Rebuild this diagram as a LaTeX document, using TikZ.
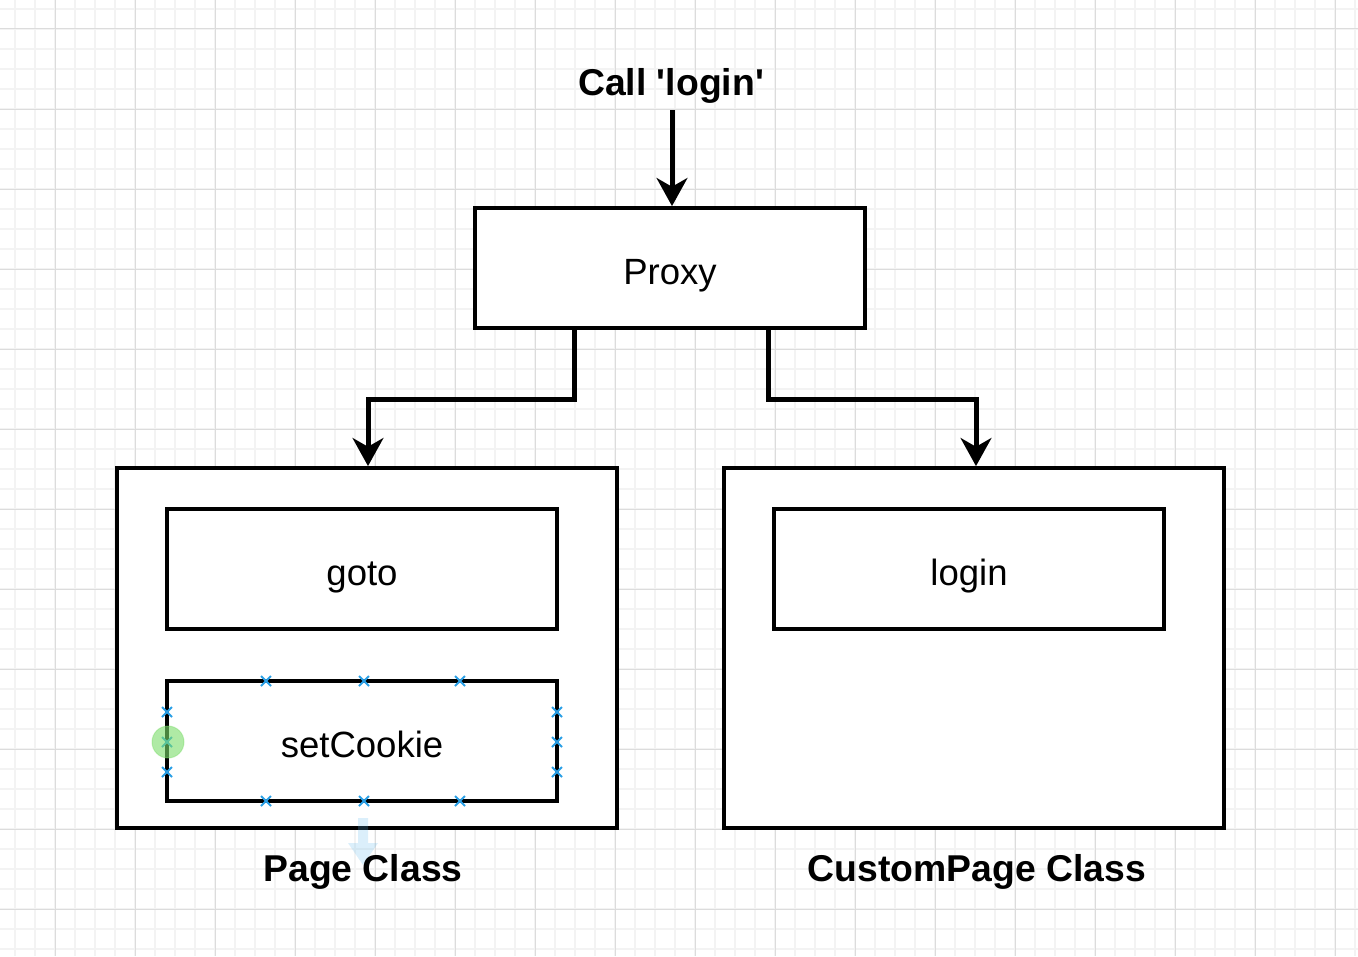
\documentclass[tikz,border=0pt]{standalone}
\usepackage{fontspec}
\setmainfont{Liberation Sans}
\usetikzlibrary{arrows.meta}
\newlength\px
\setlength\px{0.75pt}
\definecolor{gridminor}{HTML}{F3F3F3}
\definecolor{gridmajor}{HTML}{DCDCDC}
\definecolor{selblue}{HTML}{2A9FE6}
\definecolor{selgreen}{HTML}{7BDD6A}
\definecolor{hintblue}{HTML}{5FB8EE}
\tikzset{
  box/.style={draw=black, fill=white, line width=3.8\px, rectangle, inner sep=0pt,
    minimum width=390\px, minimum height=120\px,
    font=\fontsize{27.4pt}{32pt}\selectfont, text height=31.2pt, text depth=6.8pt},
  container/.style={draw=black, fill=white, line width=3.8\px, rectangle, inner sep=0pt,
    minimum width=500\px, minimum height=360\px},
  title/.style={font=\bfseries\fontsize{28pt}{33pt}\selectfont, inner sep=0pt, anchor=base},
  conn/.style={draw=black, line width=5\px, -{Stealth[length=21pt, width=23pt, inset=6.5pt]}},
  selx/.style={draw=selblue, line width=1.8\px},
}
\begin{document}
\begin{tikzpicture}[x=0.75pt, y=-0.75pt]
\useasboundingbox (0,0) rectangle (1358,956);
\fill[white] (0,0) rectangle (1358,956);
% grid
\foreach \gx in {15,35,...,1355} \draw[gridminor, line width=1.4\px] (\gx,0) -- (\gx,956);
\foreach \gy in {9,29,...,949} \draw[gridminor, line width=1.4\px] (0,\gy) -- (1358,\gy);
\foreach \gx in {55,135,...,1335} \draw[gridmajor, line width=1\px] (\gx,0) -- (\gx,956);
\foreach \gy in {29,109,...,909} \draw[gridmajor, line width=1\px] (0,\gy) -- (1358,\gy);

% nodes
\node[title] (call) at (671,95) {Call \textquotesingle login\textquotesingle};
\node[box] (proxy) at (670,268) {Proxy};
\node[container] (page) at (367,648) {};
\node[container] (cpage) at (974,648) {};
\node[box] (goto) at (362,569) {goto};
\node[box] (setcookie) at (362,741) {setCookie};
\node[box] (login) at (969,569) {login};

% connectors
\coordinate (callend) at (672,110);
\coordinate (ljog) at (368,399);
\coordinate (rjog) at (976,399);
\draw[conn] (callend) -- (callend |- proxy.north);
\draw[conn] ([xshift=-72pt]proxy.south) |- (ljog) -- (ljog |- page.north);
\draw[conn] ([xshift=73.5pt]proxy.south) |- (rjog) -- (rjog |- cpage.north);

% selection hint arrow
\fill[hintblue, fill opacity=0.22] (358,818) -- (368,818) -- (368,843) -- (378,843) -- (363,865) -- (348,843) -- (358,843) -- cycle;

% labels
\node[title] (pagelabel) at (363,881) {Page Class};
\node[title] (cpagelabel) at (977,881) {CustomPage Class};

% selection handles
\foreach \hx/\hy in {266/681,364/681,460/681,266/801,364/801,460/801,167/712,167/742,167/772,557/712,557/742,557/772}
  \draw[selx] (\hx-5,\hy-5) -- (\hx+5,\hy+5) (\hx-5,\hy+5) -- (\hx+5,\hy-5);
\fill[selgreen, fill opacity=0.6] (168,742) circle[radius=16];
\draw[selgreen, opacity=0.4, line width=1\px] (168,742) circle[radius=16];
\end{tikzpicture}
\end{document}
